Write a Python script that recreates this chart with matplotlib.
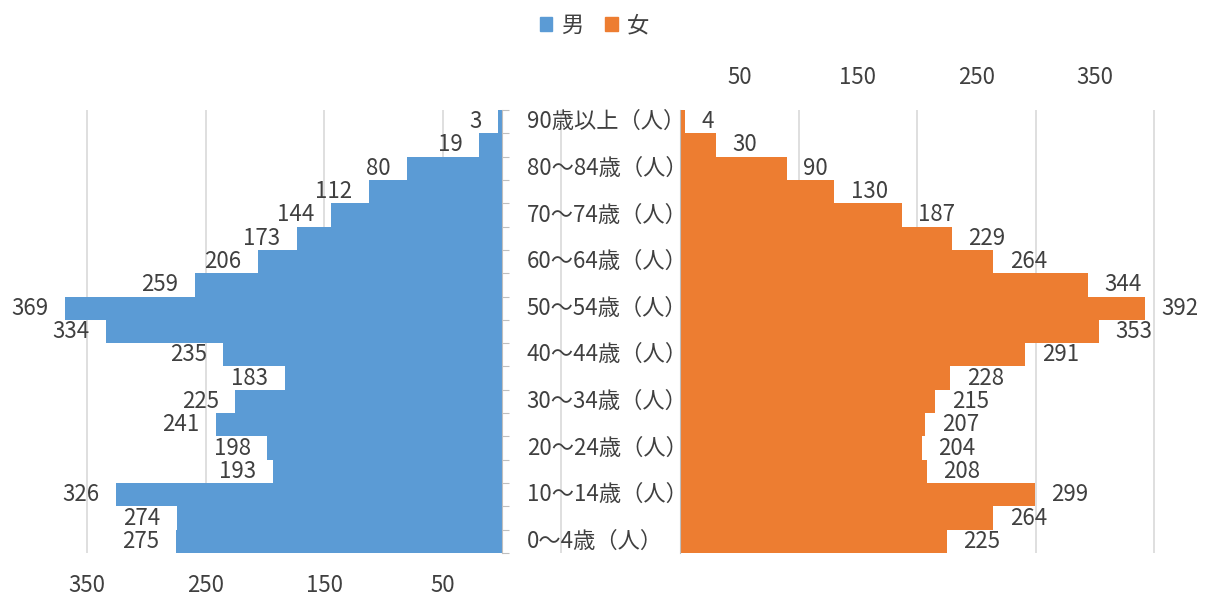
import matplotlib

matplotlib.use("Agg")
import matplotlib.pyplot as plt
from matplotlib.patches import Patch

plt.rcParams["font.family"] = ["Noto Sans CJK JP", "DejaVu Sans"]

# age groups, youngest first (bottom of the pyramid)
ages = [
    "0～4歳", "5～9歳", "10～14歳", "15～19歳", "20～24歳", "25～29歳",
    "30～34歳", "35～39歳", "40～44歳", "45～49歳", "50～54歳", "55～59歳",
    "60～64歳", "65～69歳", "70～74歳", "75～79歳", "80～84歳", "85～89歳",
    "90歳以上",
]
male = [275, 274, 326, 193, 198, 241, 225, 183, 235, 334, 369, 259,
        206, 173, 144, 112, 80, 19, 3]
female = [225, 264, 299, 208, 204, 207, 215, 228, 291, 353, 392, 344,
          264, 229, 187, 130, 90, 30, 4]
left_ticks = [50, 150, 250, 350]
right_ticks = [50, 150, 250, 350]
right_grid = [100, 200, 300, 400]

BLUE = "#5B9BD5"
ORANGE = "#ED7D31"
TEXT = "#404040"
GRID = "#D9D9D9"
FS = 16

W, H = 1208, 604
fig = plt.figure(figsize=(W / 100, H / 100), dpi=100)
bottom, height = 51 / H, 443 / H
ax_l = fig.add_axes([28 / W, bottom, 545 / W, height])
ax_r = fig.add_axes([680 / W, bottom, 498 / W, height])

y = list(range(len(ages)))

# --- male (left, reversed axis)
bars_m = ax_l.barh(y, male, height=1.0, color=BLUE, zorder=2)
ax_l.set_xlim(400, -60)
ax_l.set_ylim(-0.5, len(ages) - 0.5)
ax_l.set_xticks(left_ticks)
ax_l.set_xticklabels([str(t) for t in left_ticks])
ax_l.tick_params(axis="x", length=0, pad=15, labelsize=FS, labelcolor=TEXT)
ax_l.grid(axis="x", color=GRID, linewidth=1.2, zorder=0)
ax_l.axvline(-50, color=GRID, linewidth=1.2, zorder=0)
ax_l.set_axisbelow(True)
for s in ["top", "left", "bottom"]:
    ax_l.spines[s].set_visible(False)
ax_l.spines["right"].set_position(("data", 0))
ax_l.spines["right"].set_color("#BFBFBF")
ax_l.yaxis.set_ticks_position("right")
ax_l.set_yticks([i - 0.5 for i in range(len(ages) + 1)])
ax_l.set_yticklabels([])
ax_l.tick_params(axis="y", direction="out", length=5, color="#BFBFBF")
ax_l.bar_label(bars_m, padding=12, fontsize=FS, color=TEXT)

# category labels (every second group), sitting between the two halves
for i in range(0, len(ages), 2):
    ax_l.text(-21, i, ages[i] + "（人）", ha="left", va="center",
              fontsize=FS, color=TEXT, zorder=3)

# --- female (right)
bars_f = ax_r.barh(y, female, height=1.0, color=ORANGE, zorder=2)
ax_r.set_xlim(0, 420)
ax_r.set_ylim(-0.5, len(ages) - 0.5)
ax_r.xaxis.set_ticks_position("top")
ax_r.set_xticks(right_ticks)
ax_r.set_xticklabels([str(t) for t in right_ticks])
ax_r.set_xticks(right_grid, minor=True)
ax_r.tick_params(axis="x", which="both", length=0, pad=15, labelsize=FS,
                 labelcolor=TEXT)
ax_r.grid(axis="x", which="minor", color=GRID, linewidth=1.2, zorder=0)
ax_r.set_axisbelow(True)
ax_r.set_yticks([])
for s in ["top", "right", "bottom"]:
    ax_r.spines[s].set_visible(False)
ax_r.spines["left"].set_color("#BFBFBF")
ax_r.bar_label(bars_f, padding=12, fontsize=FS, color=TEXT)

handles = [Patch(color=BLUE), Patch(color=ORANGE)]
fig.legend(handles, ["男", "女"], loc="upper center", bbox_to_anchor=(0.492, 1.01),
           ncol=2, frameon=False, fontsize=FS, handlelength=0.55, handleheight=0.55,
           handletextpad=0.4, columnspacing=1.0, labelcolor=TEXT)

fig.savefig("out.png", dpi=100)
plt.close(fig)
